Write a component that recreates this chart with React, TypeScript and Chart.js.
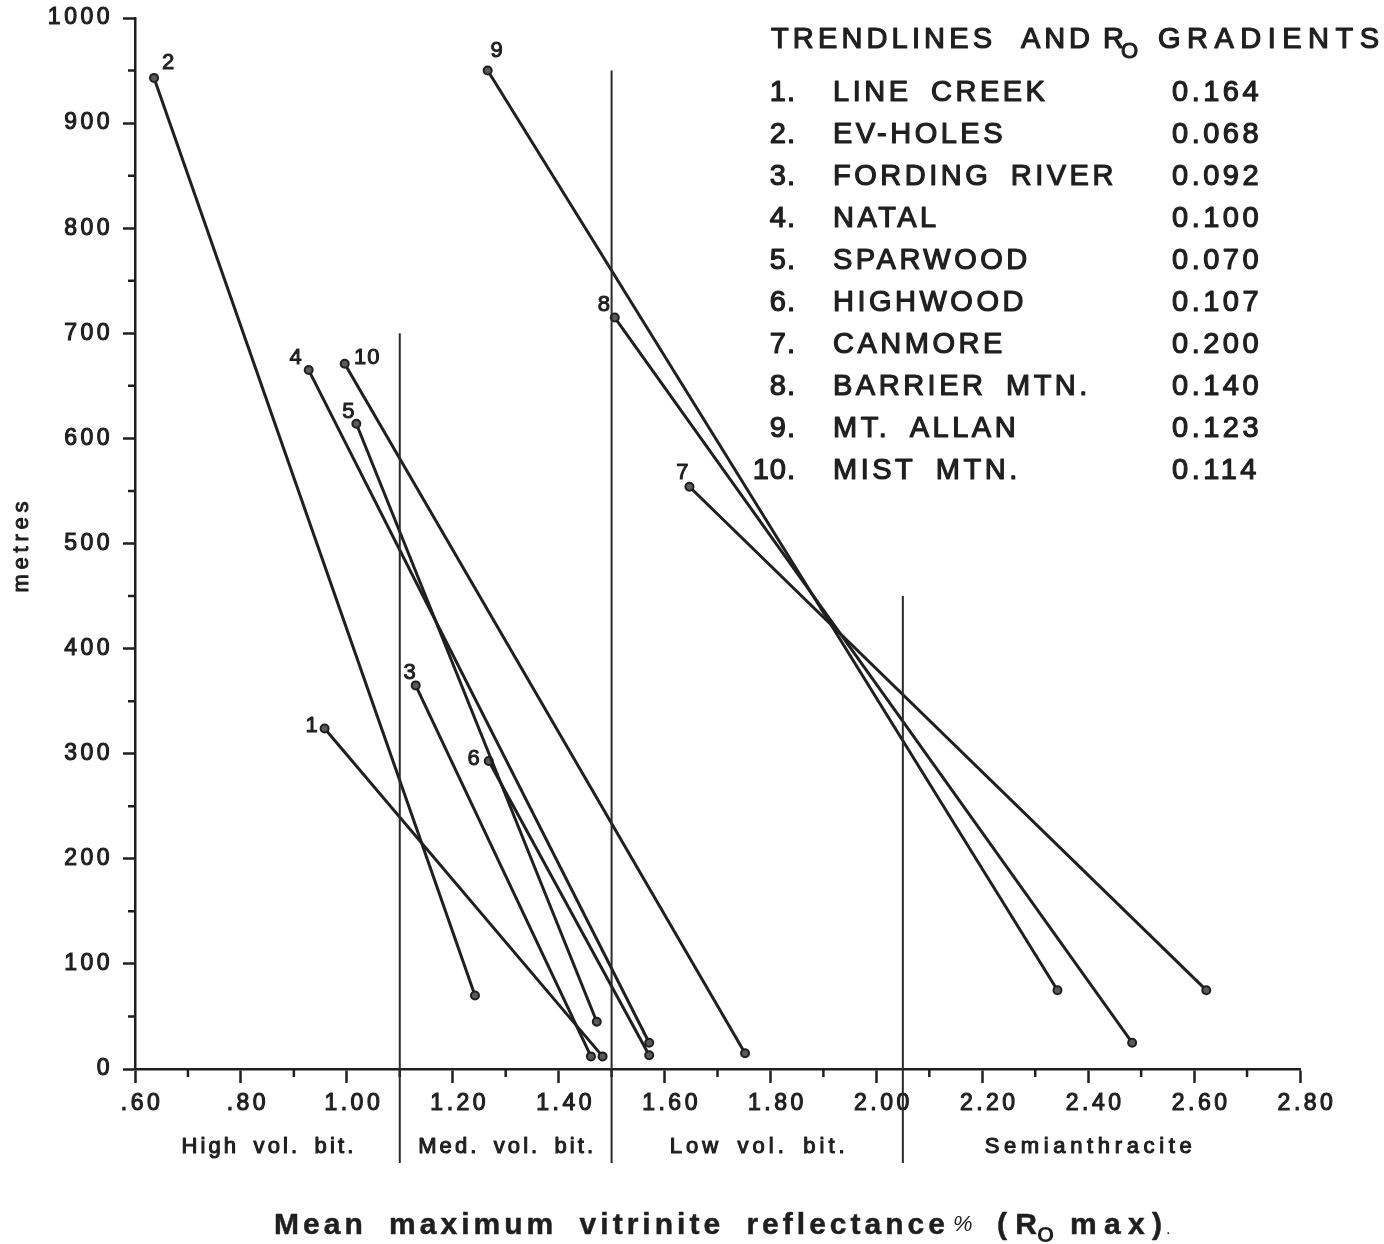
import { useEffect, useRef } from 'react';
import { Chart, registerables } from 'chart.js';

Chart.register(...registerables);

// ---------- data ----------
const trendNumbers = ['1', '2', '3', '4', '5', '6', '7', '8', '9', '10'];
const trendNames = [
  'LINE CREEK',
  'EV-HOLES',
  'FORDING RIVER',
  'NATAL',
  'SPARWOOD',
  'HIGHWOOD',
  'CANMORE',
  'BARRIER MTN.',
  'MT. ALLAN',
  'MIST MTN.',
];
const roGradients = ['0.164', '0.068', '0.092', '0.100', '0.070', '0.107', '0.200', '0.140', '0.123', '0.114'];

// upper (shallow-Ro) end of each trendline
const topRo = [0.958, 0.636, 1.13, 0.928, 1.018, 1.268, 1.647, 1.506, 1.266, 0.996];
const topDepth = [324, 943, 365, 665, 614, 293, 554, 715, 950, 671];
// lower (high-Ro) end of each trendline
const bottomRo = [1.483, 1.242, 1.461, 1.571, 1.472, 1.571, 2.623, 2.483, 2.342, 1.752];
const bottomDepth = [12, 70, 12, 25, 45, 13, 75, 25, 75, 15];

const xTickValues = [0.6, 0.8, 1.0, 1.2, 1.4, 1.6, 1.8, 2.0, 2.2, 2.4, 2.6, 2.8];
const xMinorTickValues = [0.7, 0.9, 1.1, 1.3, 1.5, 1.7, 1.9, 2.1, 2.3, 2.5, 2.7];
const yTickValues = [0, 100, 200, 300, 400, 500, 600, 700, 800, 900, 1000];
const yMinorTickValues = [50, 150, 250, 350, 450, 550, 650, 750, 850, 950];

const rankNames = ['High vol. bit.', 'Med. vol. bit.', 'Low vol. bit.', 'Semianthracite'];
const rankLabelRo = [0.85, 1.3, 1.775, 2.4];
const rankBoundaryRo = [1.1, 1.5, 2.05];
const rankBoundaryTopDepth = [700, 950, 450];

// ---------- styling / layout ----------
const INK = '#1f1f1f';
const FONT = '"Liberation Sans", Arial, Helvetica, sans-serif';
const pointLabelOffsets = [
  [-13, -4],
  [14, -16],
  [-6, -14],
  [-13, -14],
  [-8, -13],
  [-15, -4],
  [-7, -15],
  [-11, -14],
  [9, -21],
  [22, -7],
];
const rankLabelWidths = [172, 175, 175, 207];

function fmtRo(v: number): string {
  const s = v.toFixed(2);
  return v < 1 ? s.replace(/^0/, '') : s;
}

type TOpts = {
  font: string;
  align?: 'left' | 'center' | 'right';
  spacing?: number;
  width?: number;
  word?: number;
  stroke?: number;
};

function drawText(ctx: CanvasRenderingContext2D, text: string, x: number, y: number, o: TOpts) {
  const c: any = ctx;
  ctx.font = o.font;
  c.letterSpacing = '0px';
  c.wordSpacing = (o.word || 0) + 'px';
  const nat = ctx.measureText(text).width;
  let ls = o.spacing || 0;
  if (o.width !== undefined && text.length > 1) ls = (o.width - nat) / (text.length - 1);
  const w = nat + ls * (text.length - 1);
  let sx = x;
  if (o.align === 'center') sx = x - w / 2;
  else if (o.align === 'right') sx = x - w;
  c.letterSpacing = ls + 'px';
  ctx.textAlign = 'left';
  ctx.textBaseline = 'alphabetic';
  ctx.fillStyle = INK;
  if (o.stroke) {
    ctx.strokeStyle = INK;
    ctx.lineWidth = o.stroke;
    ctx.lineJoin = 'round';
    ctx.strokeText(text, sx, y);
  }
  ctx.fillText(text, sx, y);
  c.letterSpacing = '0px';
  c.wordSpacing = '0px';
  return w;
}

const decorPlugin = {
  id: 'decor',
  beforeDraw(chart: any) {
    chart.ctx.letterSpacing = '3.5px';
  },
  afterDraw(chart: any) {
    const ctx: CanvasRenderingContext2D = chart.ctx;
    const xs = chart.scales.x;
    const ys = chart.scales.y;
    ctx.save();
    (ctx as any).letterSpacing = '0px';

    // minor ticks
    ctx.strokeStyle = INK;
    ctx.lineWidth = 2.5;
    ctx.lineCap = 'butt';
    ctx.beginPath();
    for (const v of xMinorTickValues) {
      const px = xs.getPixelForValue(v);
      ctx.moveTo(px, ys.bottom);
      ctx.lineTo(px, ys.bottom + 8);
    }
    for (const v of yMinorTickValues) {
      const py = ys.getPixelForValue(v);
      ctx.moveTo(xs.left, py);
      ctx.lineTo(xs.left - 7, py);
    }
    ctx.stroke();

    // rank boundary lines
    ctx.lineWidth = 2;
    ctx.strokeStyle = '#2a2a2a';
    ctx.beginPath();
    rankBoundaryRo.forEach((r, i) => {
      const px = xs.getPixelForValue(r);
      ctx.moveTo(px, ys.getPixelForValue(rankBoundaryTopDepth[i]));
      ctx.lineTo(px, 1163);
    });
    ctx.stroke();

    // rank labels
    rankNames.forEach((n, i) => {
      drawText(ctx, n, xs.getPixelForValue(rankLabelRo[i]), 1153, {
        font: `22px ${FONT}`,
        align: 'center',
        width: rankLabelWidths[i],
        word: 5,
        stroke: 1.1,
      });
    });

    // point labels
    trendNumbers.forEach((n, i) => {
      const px = xs.getPixelForValue(topRo[i]) + pointLabelOffsets[i][0];
      const py = ys.getPixelForValue(topDepth[i]) + pointLabelOffsets[i][1];
      drawText(ctx, n, px, py + 7.5, { font: `22px ${FONT}`, align: 'center', spacing: 1, stroke: 1 });
    });

    // legend
    const lf = `29px ${FONT}`;
    const titleBase = 48;
    drawText(ctx, 'TRENDLINES', 771, titleBase, { font: lf, width: 221, stroke: 1.2 });
    drawText(ctx, 'AND', 1021, titleBase, { font: lf, width: 69, stroke: 1.2 });
    drawText(ctx, 'R', 1103, titleBase, { font: lf, stroke: 1.2 });
    drawText(ctx, 'O', 1121, titleBase + 10, { font: `22px ${FONT}`, stroke: 1.1 });
    drawText(ctx, 'GRADIENTS', 1158, titleBase, { font: lf, width: 221, stroke: 1.2 });

    trendNumbers.forEach((n, i) => {
      const base = 100.5 + 42 * i;
      drawText(ctx, n + '.', 795, base, { font: lf, align: 'right', spacing: 1, stroke: 1.2 });
      drawText(ctx, trendNames[i], 833, base, { font: lf, spacing: 3.5, word: 8, stroke: 1.2 });
      drawText(ctx, roGradients[i], 1172, base, { font: lf, spacing: 3.5, stroke: 1.2 });
    });

    // x-axis title
    const tf = `bold 30px ${FONT}`;
    const tb = 1234;
    drawText(ctx, 'Mean maximum vitrinite reflectance', 274, tb, { font: tf, width: 671, word: 10, stroke: 0.5 });
    drawText(ctx, '%', 953, tb - 3, { font: `italic 22px ${FONT}` });
    drawText(ctx, '(R', 997, tb, { font: tf, width: 40, stroke: 0.5 });
    drawText(ctx, 'O', 1037, tb + 8, { font: `bold 22px ${FONT}` });
    drawText(ctx, 'max)', 1070, tb, { font: tf, width: 92, stroke: 0.5 });
    drawText(ctx, '.', 1166, tb, { font: `16px ${FONT}` });

    // y-axis title
    ctx.save();
    ctx.translate(28, 547);
    ctx.rotate(-Math.PI / 2);
    drawText(ctx, 'metres', 0, 0, { font: `22px ${FONT}`, align: 'center', width: 91, stroke: 1 });
    ctx.restore();

    ctx.restore();
  },
};

export default function App() {
  const canvasRef = useRef<HTMLCanvasElement | null>(null);

  useEffect(() => {
    const canvas = canvasRef.current;
    if (!canvas) return;
    const datasets = trendNumbers.map((n, i) => ({
      label: `${n}. ${trendNames[i]}`,
      data: [
        { x: topRo[i], y: topDepth[i] },
        { x: bottomRo[i], y: bottomDepth[i] },
      ],
      showLine: true,
      borderColor: INK,
      borderWidth: 3,
      pointRadius: 4,
      pointBackgroundColor: '#5a5a5a',
      pointBorderColor: INK,
      pointBorderWidth: 2,
      fill: false,
    }));

    const tickFont = { family: FONT, size: 23 };

    const chart = new Chart(canvas, {
      type: 'scatter',
      data: { datasets },
      plugins: [decorPlugin],
      options: {
        responsive: false,
        animation: false,
        devicePixelRatio: 1,
        layout: { padding: { left: 0, right: 84, top: 18, bottom: 0 } },
        plugins: {
          legend: { display: false },
          tooltip: { enabled: false },
          title: { display: false },
        },
        scales: {
          x: {
            type: 'linear',
            position: 'bottom',
            min: 0.6,
            max: 2.8,
            afterBuildTicks: (s: any) => {
              s.ticks = xTickValues.map((v) => ({ value: v }));
            },
            afterFit: (s: any) => {
              s.height = 175;
              s.paddingLeft = 0;
              s.paddingRight = 0;
            },
            grid: {
              display: true,
              drawOnChartArea: false,
              drawTicks: true,
              tickLength: 14,
              tickWidth: 2.5,
              tickColor: INK,
            },
            border: { display: true, color: INK, width: 2.5 },
            ticks: {
              autoSkip: false,
              maxRotation: 0,
              minRotation: 0,
              padding: 7,
              labelOffset: 7,
              color: INK,
              font: tickFont,
              textStrokeColor: INK,
              textStrokeWidth: 1.1,
              callback: (v: any) => fmtRo(Number(v)),
            },
          },
          y: {
            type: 'linear',
            position: 'left',
            min: 0,
            max: 1000,
            afterBuildTicks: (s: any) => {
              s.ticks = yTickValues.map((v) => ({ value: v }));
            },
            afterFit: (s: any) => {
              s.width = 135;
              s.paddingTop = 0;
              s.paddingBottom = 0;
            },
            grid: {
              display: true,
              drawOnChartArea: false,
              drawTicks: true,
              tickLength: 12,
              tickWidth: 2.5,
              tickColor: INK,
            },
            border: { display: true, color: INK, width: 2.5 },
            ticks: {
              autoSkip: false,
              padding: 10,
              color: INK,
              font: tickFont,
              textStrokeColor: INK,
              textStrokeWidth: 1.1,
              callback: (v: any) => String(v),
            },
          },
        },
      } as any,
    });
    return () => chart.destroy();
  }, []);

  return (
    <div style={{ position: 'absolute', left: 0, top: 0, width: 1384, height: 1244, background: '#fff' }}>
      <canvas ref={canvasRef} width={1384} height={1244} style={{ display: 'block', width: 1384, height: 1244 }} />
    </div>
  );
}
